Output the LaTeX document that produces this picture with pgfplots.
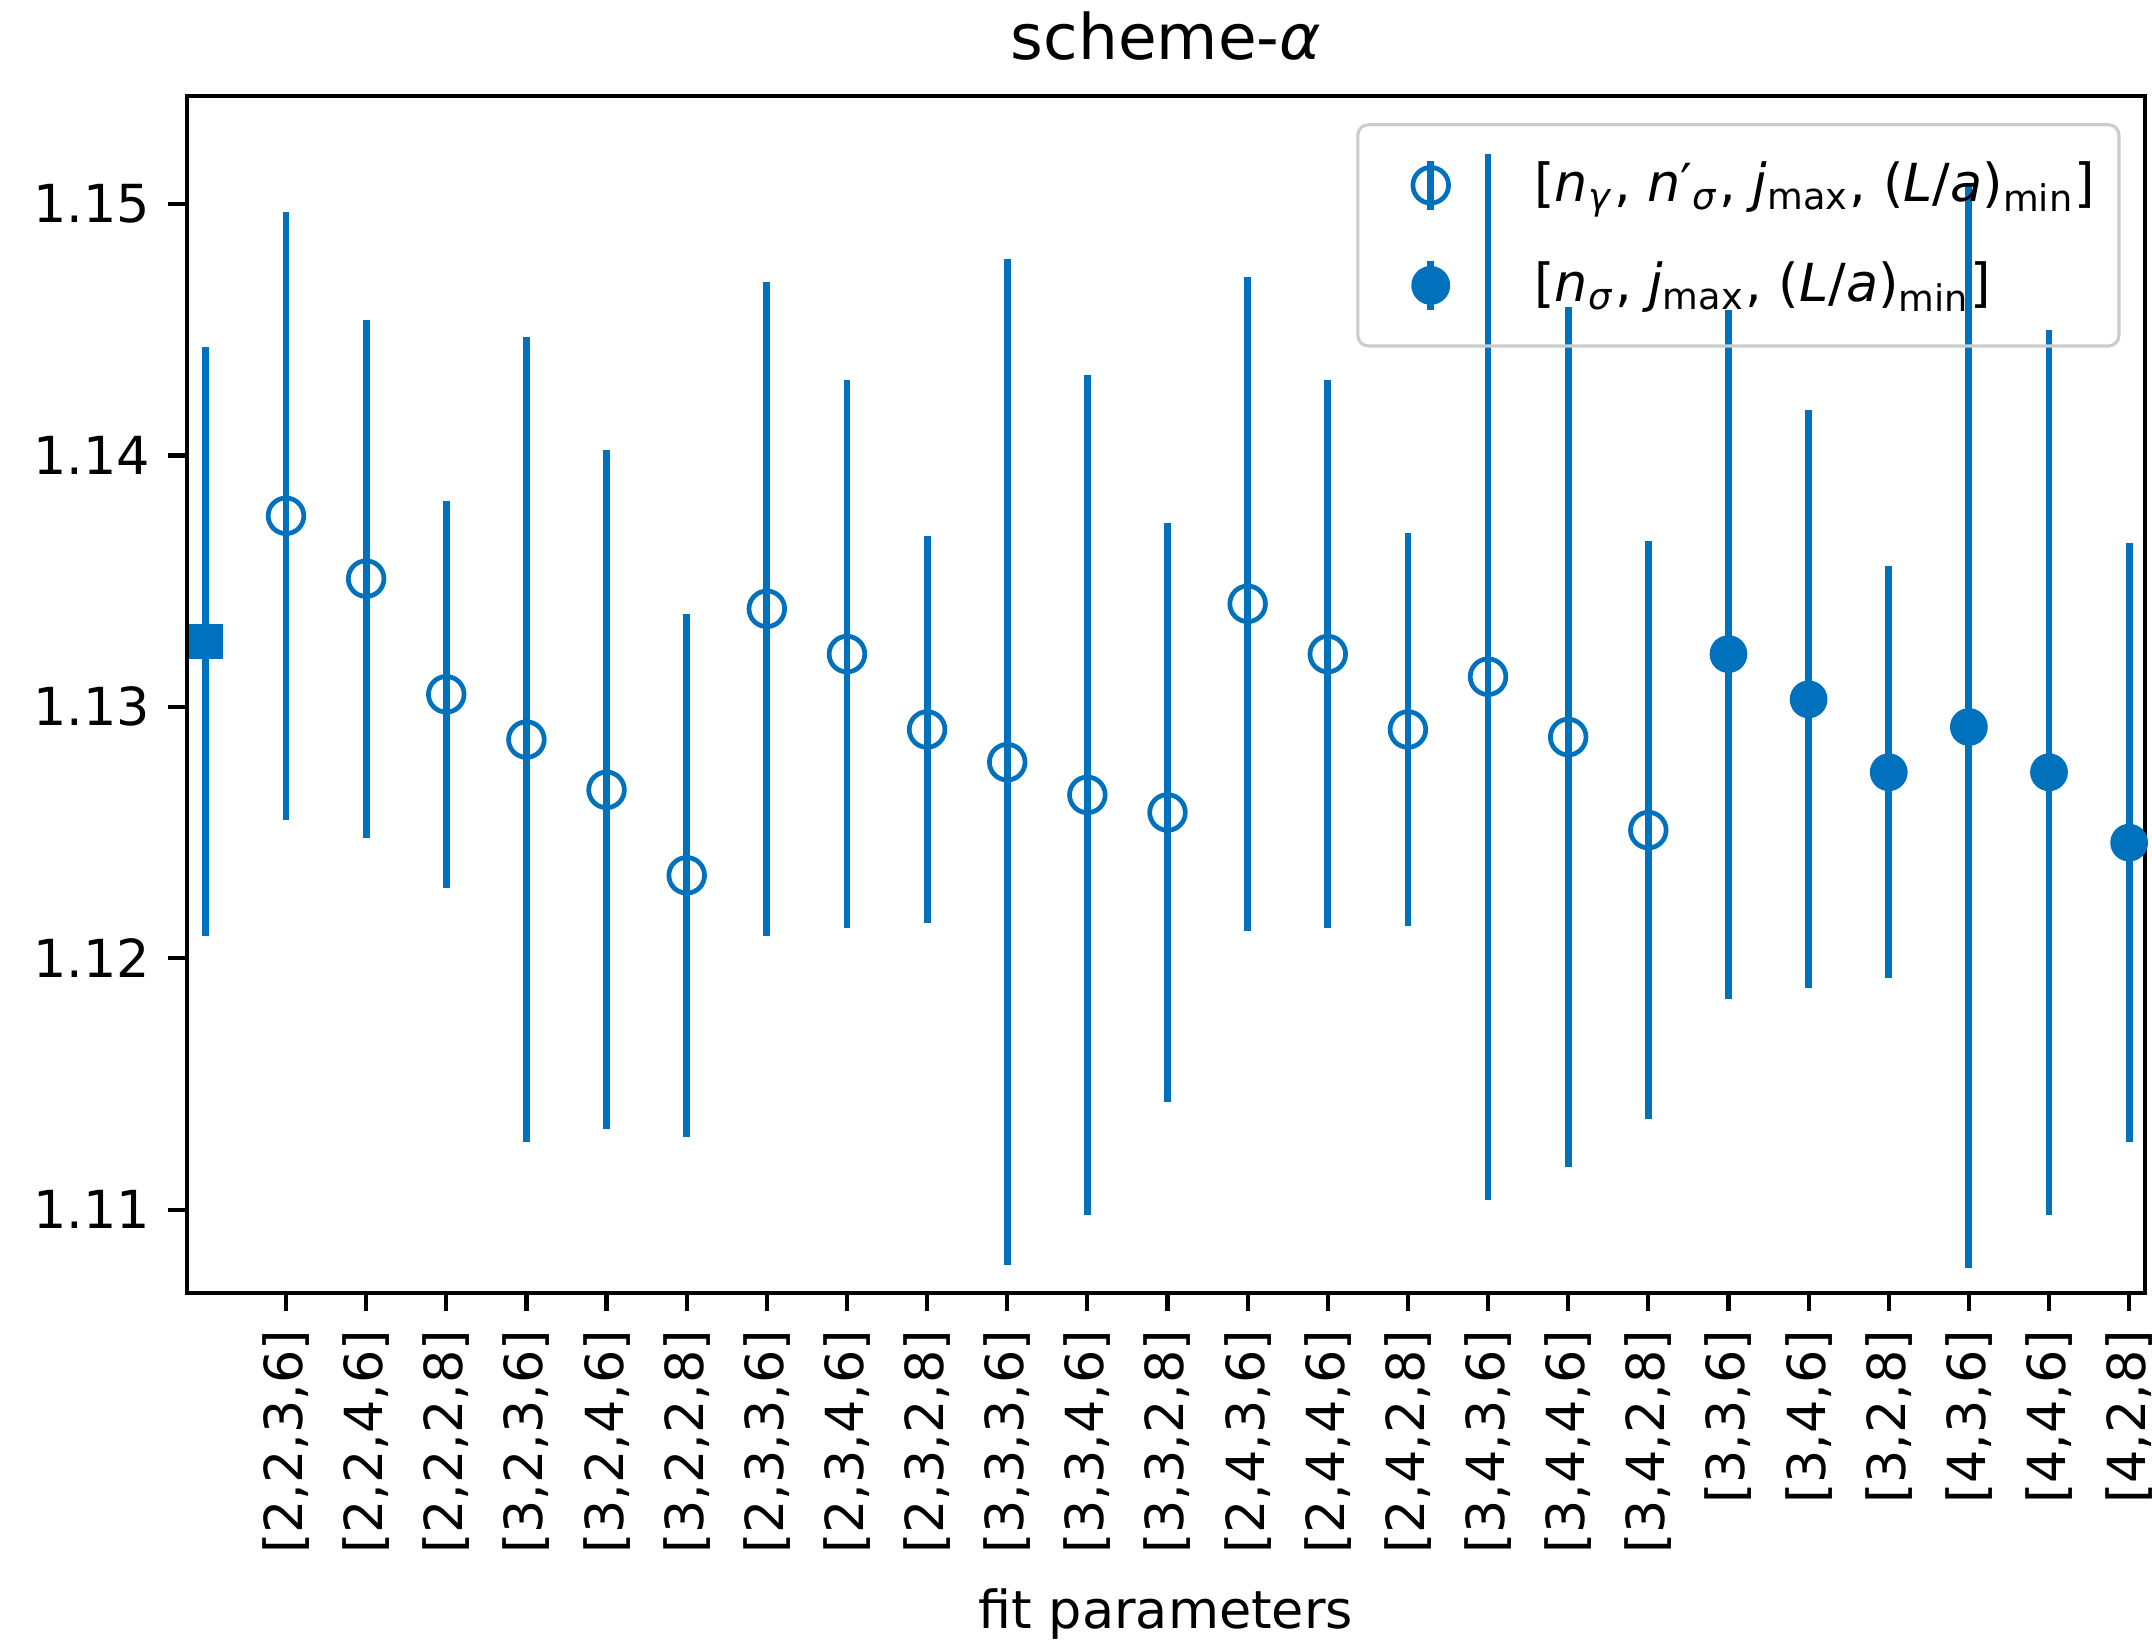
\documentclass[border=0pt]{standalone}
\usepackage{fontspec}
\setmainfont{DejaVu Sans}
\usepackage{pgfplots}
\usepackage{pgfplotstable}
\pgfplotsset{compat=1.18}
\definecolor{mblue}{RGB}{0,114,189}

\pgfplotstableread{
x y e
0 1.1326 0.0117
}\sqdata

\pgfplotstableread{
x y e
1 1.1376 0.0121
2 1.1351 0.0103
3 1.1305 0.0077
4 1.1287 0.0160
5 1.1267 0.0135
6 1.1233 0.0104
7 1.1339 0.0130
8 1.1321 0.0109
9 1.1291 0.0077
10 1.1278 0.0200
11 1.1265 0.0167
12 1.1258 0.0115
13 1.1341 0.0130
14 1.1321 0.0109
15 1.1291 0.0078
16 1.1312 0.0208
17 1.1288 0.0171
18 1.1251 0.0115
}\opendata

\pgfplotstableread{
x y e
19 1.1321 0.0137
20 1.1303 0.0115
21 1.1274 0.0082
22 1.1292 0.0215
23 1.1274 0.0176
24 1.1246 0.0119
}\filldata

\begin{document}
\begin{tikzpicture}
\begin{axis}[
  scale only axis,
  width=373.6pt, height=228.3pt,
  xmin=-0.24, xmax=24.2, ymin=1.1067, ymax=1.1543,
  axis line style={line width=0.8pt},
  tick style={black, line width=0.8pt},
  tick align=outside,
  major tick length=3.5pt,
  xtick pos=bottom, ytick pos=left,
  xtick={1,...,24},
  xticklabels={{[2,2,3,6]},{[2,2,4,6]},{[2,2,2,8]},{[3,2,3,6]},{[3,2,4,6]},{[3,2,2,8]},{[2,3,3,6]},{[2,3,4,6]},{[2,3,2,8]},{[3,3,3,6]},{[3,3,4,6]},{[3,3,2,8]},{[2,4,3,6]},{[2,4,4,6]},{[2,4,2,8]},{[3,4,3,6]},{[3,4,4,6]},{[3,4,2,8]},{[3,3,6]},{[3,4,6]},{[3,2,8]},{[4,3,6]},{[4,4,6]},{[4,2,8]}},
  xticklabel style={rotate=90, anchor=east, font=\fontsize{10}{12}\selectfont},
  ytick={1.11,1.12,1.13,1.14,1.15},
  yticklabels={1.11,1.12,1.13,1.14,1.15},
  yticklabel style={font=\fontsize{10}{12}\selectfont},
  title={scheme-\textit{α}},
  title style={at={(axis description cs:0.5,1)}, anchor=base, yshift=1pt, font=\fontsize{12}{14}\selectfont},
  xlabel={fit parameters},
  xlabel style={at={(axis description cs:0.5,0)}, anchor=base, yshift=-64pt, font=\fontsize{10}{12}\selectfont},
  legend style={at={(1,1)}, anchor=north east, xshift=-4.7pt, yshift=-5.2pt,
    draw=black!20, fill=none, rounded corners=2pt, line width=0.6pt,
    font=\fontsize{10}{12}\selectfont, row sep=6pt, inner xsep=2.5pt, inner ysep=5pt},
  legend cell align=left,
  legend image code/.code={
    \path[draw=none, fill=none] (0pt,0pt) rectangle (29.2pt,0pt);
    \draw[line width=1.3pt] (11.4pt,-4.7pt) -- (11.4pt,4.7pt);
    \draw[only marks, mark repeat=2,mark phase=2] plot coordinates {(0pt,0pt)(11.4pt,0pt)(22.8pt,0pt)};
  },
]
\coordinate (bl) at (rel axis cs:0,0);
\coordinate (tr) at (rel axis cs:1,1);

\addplot[forget plot, only marks, mblue, mark=square*, mark size=3.1pt,
  error bars/.cd, y dir=both, y explicit, error mark=none,
  error bar style={line width=1.3pt, mblue}]
  table[x=x, y=y, y error=e] {\sqdata};

\addplot[only marks, mblue, mark=o, mark size=3.4pt, mark options={line width=0.9pt, fill=none},
  error bars/.cd, y dir=both, y explicit, error mark=none,
  error bar style={line width=1.3pt, mblue}]
  table[x=x, y=y, y error=e] {\opendata};
\addlegendentry{[\textit{n}\textsubscript{\textit{γ}}, \textit{n}′\textsubscript{\textit{σ}}, \textit{j}\textsubscript{max}, (\textit{L}/\textit{a})\textsubscript{min}]}

\addplot[only marks, mblue, mark=*, mark size=3.4pt,
  error bars/.cd, y dir=both, y explicit, error mark=none,
  error bar style={line width=1.3pt, mblue}]
  table[x=x, y=y, y error=e] {\filldata};
\addlegendentry{[\textit{n}\textsubscript{\textit{σ}}, \textit{j}\textsubscript{max}, (\textit{L}/\textit{a})\textsubscript{min}]}
\end{axis}
\pgfresetboundingbox
\path[use as bounding box] ([shift={(-35.6pt,-67.3pt)}]bl) rectangle ([shift={(1.3pt,18.3pt)}]tr);
\end{tikzpicture}
\end{document}
